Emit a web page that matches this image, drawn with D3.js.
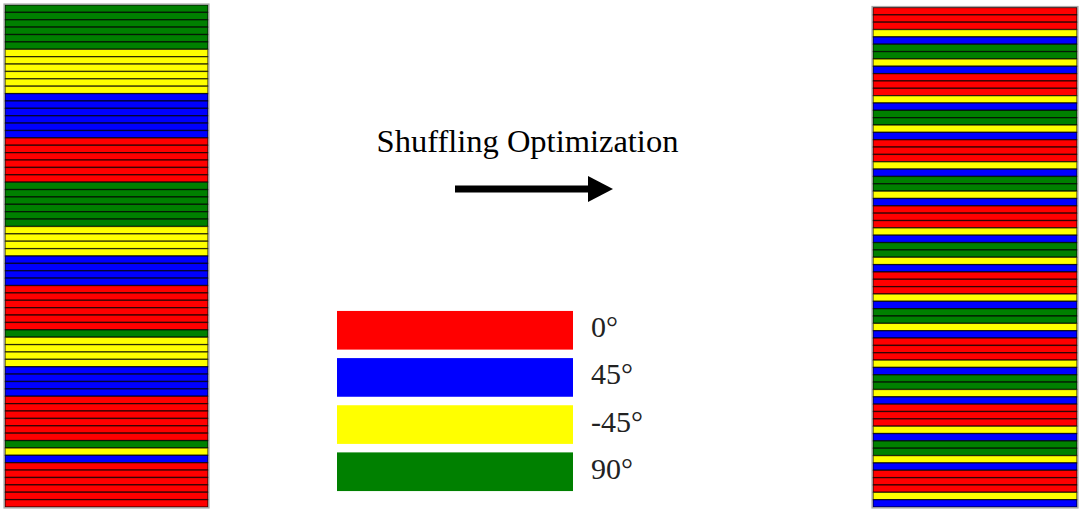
<!DOCTYPE html>
<html><head><meta charset="utf-8">
<script src="https://cdn.jsdelivr.net/npm/d3@7"></script>
<style>html,body{margin:0;padding:0;background:#fff;}svg{display:block;}</style>
</head><body>
<svg id="c" width="1080" height="510"></svg>
<script>
// Orientation categories and legend
const orientations = ["0°", "45°", "-45°", "90°"];
const colors = ["#ff0000", "#0000ff", "#ffff00", "#008000"];
// Layer sequences (top to bottom), by orientation label
const originalStack = [].concat(
  Array(6).fill("90°"), Array(6).fill("-45°"), Array(6).fill("45°"), Array(6).fill("0°"),
  Array(6).fill("90°"), Array(4).fill("-45°"), Array(4).fill("45°"), Array(6).fill("0°"),
  ["90°"], Array(4).fill("-45°"), Array(4).fill("45°"), Array(6).fill("0°"),
  ["90°"], ["-45°"], ["45°"], Array(6).fill("0°")
);
const unit = ["0°","0°","0°","-45°","45°","90°","90°","-45°","45°"];
const optimizedStack = [].concat(unit, unit, unit, unit, unit, unit, unit, ["0°","0°","0°","-45°","45°"]);
const titleText = "Shuffling Optimization";

const serif = "'Liberation Serif', 'Times New Roman', serif";
const svg = d3.select("#c");
const color = d3.scaleOrdinal().domain(orientations).range(colors);

function drawStack(data, x0, x1, y0, y1) {
  const y = d3.scaleBand().domain(d3.range(data.length)).range([y0, y1]).padding(0);
  const g = svg.append("g");
  g.selectAll("rect.layer").data(data).join("rect")
    .attr("class", "layer")
    .attr("x", x0).attr("width", x1 - x0)
    .attr("y", (d, i) => y(i)).attr("height", y.bandwidth())
    .attr("fill", d => color(d))
    .attr("stroke", "#000").attr("stroke-opacity", 0.7).attr("stroke-width", 1.3);
  g.append("rect").attr("x", x0 - 1).attr("y", y0 - 1)
    .attr("width", x1 - x0 + 2).attr("height", y1 - y0 + 2)
    .attr("fill", "none").attr("stroke", "#aaa").attr("stroke-width", 1.2);
}
drawStack(originalStack, 5, 208, 5, 507);
drawStack(optimizedStack, 873, 1077, 7.5, 507);

// Title
svg.append("text").attr("x", 527.5).attr("y", 152).attr("text-anchor", "middle")
  .style("font-family", serif).attr("font-size", 32.5)
  .attr("fill", "#000").text(titleText);

// Arrow
svg.append("line").attr("x1", 455).attr("y1", 189).attr("x2", 592).attr("y2", 189)
  .attr("stroke", "#000").attr("stroke-width", 7);
svg.append("path").attr("d", d3.line()([[588, 176], [613, 189], [588, 202]]) + "Z").attr("fill", "#000");

// Legend
const ly = d3.scaleBand().domain(orientations).range([310, 492]).paddingInner(0.18).paddingOuter(0.02);
const lg = svg.append("g");
lg.selectAll("rect").data(orientations).join("rect")
  .attr("x", 337).attr("width", 236)
  .attr("y", d => ly(d)).attr("height", ly.bandwidth())
  .attr("fill", d => color(d));
lg.selectAll("text").data(orientations).join("text")
  .attr("x", 591).attr("y", d => ly(d) + ly.bandwidth() / 2 + 7)
  .style("font-family", serif).attr("font-size", 30)
  .attr("fill", "#222").text(d => d);
</script>
</body></html>
